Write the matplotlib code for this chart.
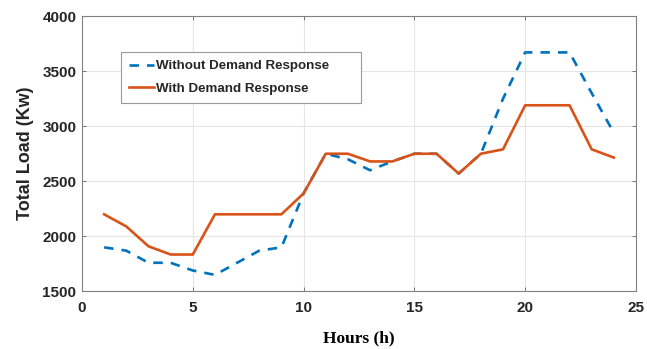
import matplotlib
matplotlib.use("Agg")
import matplotlib.pyplot as plt

hours = list(range(1, 25))
without_dr = [1900, 1870, 1760, 1760, 1690, 1650, 1760, 1870, 1900, 2390, 2750, 2700,
              2600, 2680, 2750, 2750, 2570, 2750, 3250, 3670, 3670, 3670, 3300, 2940]
with_dr = [2200, 2090, 1910, 1835, 1835, 2200, 2200, 2200, 2200, 2390, 2750, 2750,
           2680, 2680, 2750, 2750, 2570, 2750, 2790, 3190, 3190, 3190, 2790, 2715]
xticks = [0, 5, 10, 15, 20, 25]
yticks = [1500, 2000, 2500, 3000, 3500, 4000]

BLUE = "#0072BD"; ORANGE = "#D95319"; INK = "#262626"

plt.rcParams.update({"font.family": "Liberation Sans", "font.weight": "bold",
                     "lines.scale_dashes": False})
fig = plt.figure(figsize=(6.47, 3.49), dpi=100)
ax = fig.add_axes([0.1267, 0.165, 0.8563, 0.789])

ax.plot(hours, without_dr, color=BLUE, lw=1.9, dashes=(6.8, 5.8),
        label="Without Demand Response")
ax.plot(hours, with_dr, color=ORANGE, lw=1.9, label="With Demand Response")

ax.set_xlim(0, 25); ax.set_ylim(1500, 4000)
ax.set_xticks(xticks); ax.set_yticks(yticks)
ax.grid(True, color="#e6e6e6", lw=0.8)
ax.set_axisbelow(True)
ax.tick_params(direction="in", length=3, width=0.7, colors="#777777",
               labelcolor=INK, labelsize=11, top=True, right=True)
ax.tick_params(axis="x", pad=7)
ax.tick_params(axis="y", pad=4)
for lab in ax.get_xticklabels() + ax.get_yticklabels():
    lab.set_fontweight("bold")
for s in ax.spines.values():
    s.set_color("#808080"); s.set_linewidth(0.8)

ax.set_ylabel("Total Load (Kw)", fontsize=13, fontweight="bold", color=INK, labelpad=6)
ax.set_xlabel("Hours (h)", fontsize=12.5, fontweight="bold", family="Liberation Serif",
              color="black", labelpad=11)

# legend box stretched to the reference's width
leg = ax.legend(loc="upper left", bbox_to_anchor=(0.07, 0.69, 0.434, 0.18), mode="expand",
                fontsize=9.6, handlelength=1.9, handletextpad=0.15, borderpad=0.6,
                labelspacing=0.75, fancybox=False, framealpha=1, borderaxespad=0)
leg.get_frame().set_edgecolor("#999999"); leg.get_frame().set_linewidth(0.8)
for t in leg.get_texts():
    t.set_color(INK)

fig.savefig("out.png", dpi=100)
